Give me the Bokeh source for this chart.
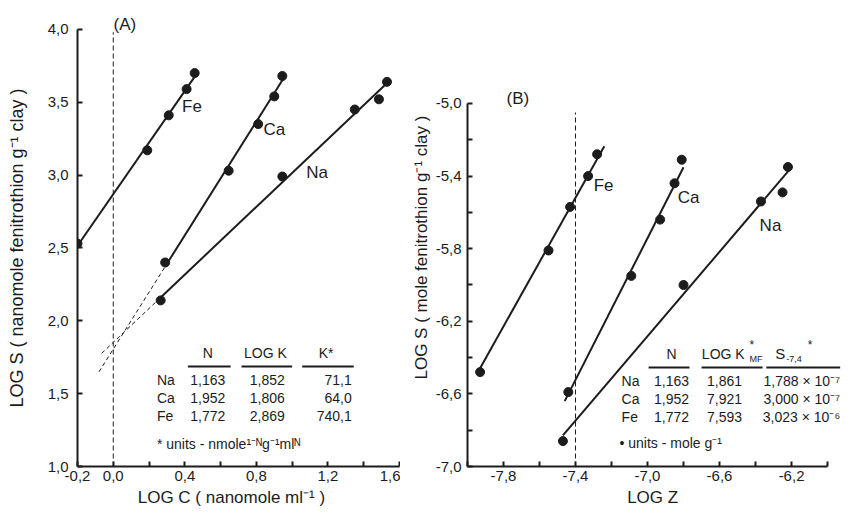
from bokeh.plotting import figure
from bokeh.layouts import row
from bokeh.models import FixedTicker, CustomJSTickFormatter, Range1d
from bokeh.core.properties import value
from bokeh.embed import file_html
from bokeh.resources import INLINE
import math

# ---------------- data ----------------
ions = ["Na", "Ca", "Fe"]
N_vals = [1.163, 1.952, 1.772]
logK_A = [1.852, 1.806, 2.869]
K_A = [71.1, 64.0, 740.1]
logK_B = [1.861, 7.921, 7.593]
S_mant = [1.788, 3.000, 3.023]
S_exp = [-7, -7, -6]

# Panel A points (LOG C, LOG S)
A_fe_x = [-0.2, 0.19, 0.31, 0.41, 0.455]
A_fe_y = [2.53, 3.17, 3.41, 3.59, 3.70]
A_ca_x = [0.29, 0.645, 0.81, 0.90, 0.945]
A_ca_y = [2.40, 3.03, 3.35, 3.54, 3.68]
A_na_x = [0.265, 0.945, 1.35, 1.485, 1.53]
A_na_y = [2.14, 2.99, 3.45, 3.52, 3.64]
A_fe_ext = [-0.2, 0.47]
A_ca_ext = [0.29, 0.96]
A_na_ext = [0.265, 1.55]
A_ca_dash = [-0.08, 0.29]
A_na_dash = [-0.065, 0.265]

# Panel B points (LOG Z, LOG S)
B_fe_x = [-7.93, -7.55, -7.43, -7.33, -7.28]
B_fe_y = [-6.48, -5.81, -5.57, -5.40, -5.28]
B_ca_x = [-7.44, -7.09, -6.93, -6.85, -6.81]
B_ca_y = [-6.59, -5.95, -5.64, -5.44, -5.31]
B_na_x = [-7.47, -6.80, -6.37, -6.25, -6.22]
B_na_y = [-6.86, -6.00, -5.54, -5.49, -5.35]
B_fe_ext = [-7.93, -7.24]
B_ca_ext = [-7.46, -6.80]
B_na_ext = [-7.47, -6.21]
B_ref = -7.4

A_xticks = [-0.2, 0.0, 0.4, 0.8, 1.2, 1.6]
A_xminor = [0.2, 0.6, 1.0, 1.4]
A_yticks = [1.0, 1.5, 2.0, 2.5, 3.0, 3.5, 4.0]
B_xticks = [-7.8, -7.4, -7.0, -6.6, -6.2]
B_xminor = [-8.0, -7.6, -7.2, -6.8, -6.4, -6.0]
B_yticks = [-5.0, -5.4, -5.8, -6.2, -6.6, -7.0]
B_yminor = [-5.2, -5.6, -6.0, -6.4, -6.8]

INK = "#1c1c1c"
FONT = "Liberation Sans"
fmt = CustomJSTickFormatter(code="return tick.toFixed(1).replace('.', ',');")


def c(v, d=3):
    return f"{v:.{d}f}".replace(".", ",")


def style_axes(p):
    for ax in (p.xaxis[0], p.yaxis[0]):
        ax.axis_line_width = 2
        ax.axis_line_color = INK
        ax.major_tick_in = 5
        ax.major_tick_out = 0
        ax.minor_tick_in = 5
        ax.minor_tick_out = 0
        ax.major_tick_line_width = 2
        ax.minor_tick_line_width = 2
        ax.major_tick_line_color = INK
        ax.minor_tick_line_color = INK
        ax.major_label_text_font = FONT
        ax.major_label_text_font_size = "15px"
        ax.major_label_text_color = INK
        ax.axis_label_text_font = FONT
        ax.axis_label_text_font_size = "17px"
        ax.axis_label_text_font_style = "normal"
        ax.axis_label_text_color = INK
        ax.formatter = fmt
    p.xgrid.visible = False
    p.ygrid.visible = False
    p.outline_line_color = None


def txt(p, x, y, s, size="14px", align="left", baseline="middle"):
    p.text(x=[x], y=[y], text=[s], text_font=value(FONT), text_font_size=size,
           text_align=align, text_baseline=baseline, text_color=INK)


# ---------------- Panel A ----------------
pA = figure(frame_width=322, frame_height=452, output_backend="svg", toolbar_location=None,
            x_range=Range1d(-0.2, 1.6), y_range=Range1d(1.0, 4.102),
            min_border_left=77, min_border_right=1, min_border_top=14,
            min_border_bottom=40)
style_axes(pA)
pA.xaxis.ticker = FixedTicker(ticks=A_xticks, minor_ticks=A_xminor)
pA.yaxis.ticker = FixedTicker(ticks=A_yticks, minor_ticks=[])
pA.yaxis.bounds = (1.0, 4.0)
pA.xaxis.axis_label = "LOG  C ( nanomole   ml⁻¹ )"
pA.yaxis.axis_label = "LOG  S ( nanomole  fenitrothion  g⁻¹ clay )"
pA.yaxis.axis_label_text_font_size = "18px"
pA.xaxis.major_label_standoff = 4
pA.xaxis.axis_label_standoff = 4
pA.yaxis.major_label_standoff = 9
pA.yaxis.axis_label_standoff = 18

pA.line([0, 0], [1.0, 3.98], line_dash="5 3", line_width=1, line_color=INK)
for ext, i in ((A_fe_ext, 2), (A_ca_ext, 1), (A_na_ext, 0)):
    pA.line(ext, [logK_A[i] + N_vals[i] * x for x in ext], line_width=2, line_color=INK)
for ext, i in ((A_ca_dash, 1), (A_na_dash, 0)):
    pA.line(ext, [logK_A[i] + N_vals[i] * x for x in ext], line_width=1,
            line_dash="4 3", line_color=INK)
for xs, ys in ((A_fe_x, A_fe_y), (A_ca_x, A_ca_y), (A_na_x, A_na_y)):
    pA.scatter(xs, ys, size=9, color=INK)

txt(pA, 0.44, 3.47, "Fe", "17px", "center")
txt(pA, 0.90, 3.31, "Ca", "17px", "center")
txt(pA, 1.14, 3.02, "Na", "17px", "center")
txt(pA, 0.065, 4.03, "(A)", "17px", "center")

# table A
hy = 1.782
txt(pA, 0.528, hy, "N", "14px", "center")
txt(pA, 0.861, hy, "LOG  K", "14px", "center")
txt(pA, 1.19, hy, "K*", "14px", "center")
for x0, x1 in ((0.417, 0.656), (0.717, 1.0), (1.056, 1.344)):
    pA.line([x0, x1], [1.687, 1.687], line_width=2, line_color=INK)
row_y_A = [1.592, 1.469, 1.347]
for i, ion in enumerate(ions):
    y = row_y_A[i]
    txt(pA, 0.244, y, ion)
    txt(pA, 0.528, y, c(N_vals[i]), align="center")
    txt(pA, 0.861, y, c(logK_A[i]), align="center")
    txt(pA, 1.333, y, c(K_A[i], 1), align="right")
txt(pA, 0.244, 1.156, "* units - nmole¹⁻ᴺg⁻¹mlᴺ")

# ---------------- Panel B ----------------
pB = figure(frame_width=375, frame_height=452, output_backend="svg", toolbar_location=None,
            x_range=Range1d(-8.0, -5.917), y_range=Range1d(-7.0, -4.510),
            min_border_left=67, min_border_right=0, min_border_top=14,
            min_border_bottom=40)
style_axes(pB)
pB.xaxis.ticker = FixedTicker(ticks=B_xticks, minor_ticks=B_xminor)
pB.yaxis.ticker = FixedTicker(ticks=B_yticks, minor_ticks=B_yminor)
pB.yaxis.bounds = (-7.0, -5.0)
pB.xaxis.bounds = (-8.0, -6.0)
pB.xaxis.axis_label = "LOG  Z"
pB.yaxis.axis_label = "LOG  S ( mole  fenitrothion  g⁻¹ clay )"
pB.xaxis.major_label_standoff = 4
pB.xaxis.axis_label_standoff = 4
pB.yaxis.major_label_standoff = 6
pB.yaxis.axis_label_standoff = 2

pB.line([B_ref, B_ref], [-7.0, -5.05], line_dash="5 3", line_width=1, line_color=INK)
for ext, i in ((B_fe_ext, 2), (B_ca_ext, 1), (B_na_ext, 0)):
    s0 = math.log10(S_mant[i] * 10 ** S_exp[i])
    pB.line(ext, [s0 + N_vals[i] * (x - B_ref) for x in ext], line_width=2, line_color=INK)
for xs, ys in ((B_fe_x, B_fe_y), (B_ca_x, B_ca_y), (B_na_x, B_na_y)):
    pB.scatter(xs, ys, size=9, color=INK)

txt(pB, -7.244, -5.45, "Fe", "17px", "center")
txt(pB, -6.772, -5.52, "Ca", "17px", "center")
txt(pB, -6.317, -5.67, "Na", "17px", "center")
txt(pB, -7.72, -4.97, "(B)", "17px", "center")

# table B
hyB = -6.378
txt(pB, -6.867, hyB, "N", "14px", "center")
txt(pB, -6.439, hyB, "LOG  K", "14px", "right")
txt(pB, -6.433, -6.41, "MF", "9px", "left")
txt(pB, -6.433, -6.33, "*", "12px", "left")
txt(pB, -6.29, hyB, "S", "15px", "left")
txt(pB, -6.229, -6.41, "-7,4", "9px", "left")
txt(pB, -6.11, -6.33, "*", "12px", "left")
for x0, x1 in ((-6.994, -6.767), (-6.70, -6.361), (-6.34, -5.93)):
    pB.line([x0, x1], [-6.454, -6.454], line_width=2, line_color=INK)
row_y_B = [-6.531, -6.629, -6.727]
for i, ion in enumerate(ions):
    y = row_y_B[i]
    sup = str(S_exp[i]).replace("-", "⁻").replace("7", "⁷").replace("6", "⁶")
    txt(pB, -7.144, y, ion)
    txt(pB, -6.867, y, c(N_vals[i]), align="center")
    txt(pB, -6.572, y, c(logK_B[i]), align="center")
    txt(pB, -5.93, y, c(S_mant[i]) + " × 10" + sup, align="right")
txt(pB, -7.156, -6.869, "• units - mole  g⁻¹")

layout = row(pA, pB)
open("out.html", "w").write(file_html(layout, INLINE))
